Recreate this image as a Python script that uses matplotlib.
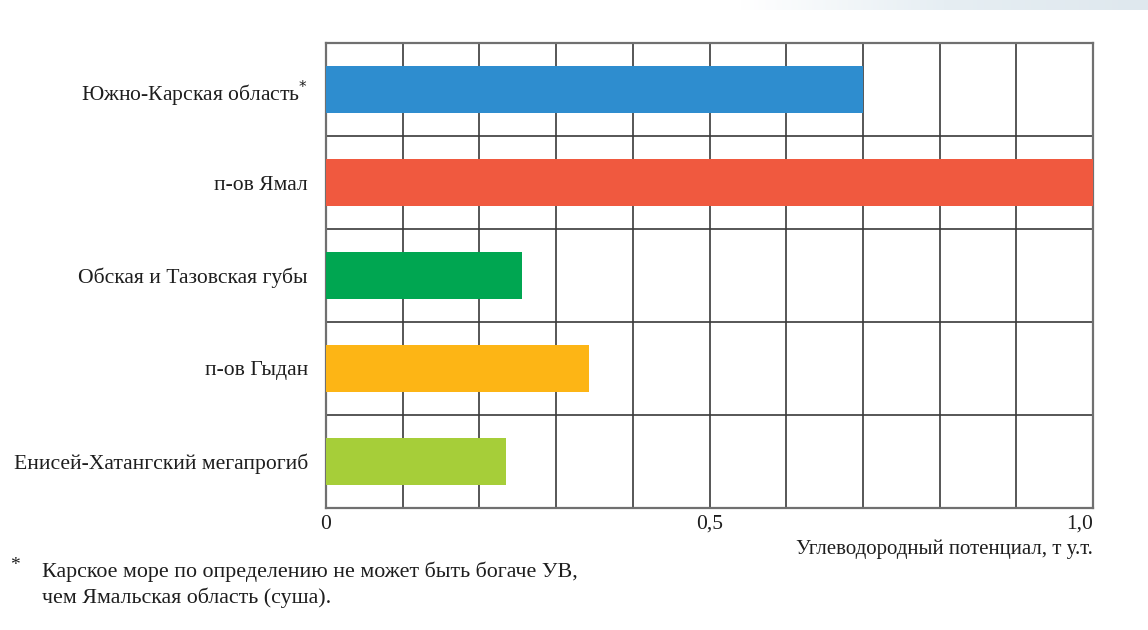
import matplotlib.pyplot as plt
import numpy as np

plt.rcParams['font.family'] = ['Liberation Serif', 'DejaVu Serif']

regions = ["Южно-Карская область$^{*}$", "п-ов Ямал", "Обская и Тазовская губы",
           "п-ов Гыдан", "Енисей-Хатангский мегапрогиб"]
potential = [0.70, 1.0, 0.256, 0.343, 0.235]
colors = ["#2E8DCF", "#F0593F", "#00A651", "#FDB515", "#A6CE39"]
xticks = [0, 0.5, 1.0]
xticklabels = ["0", "0,5", "1,0"]

fig = plt.figure(figsize=(11.48, 6.3), dpi=100)
ax = fig.add_axes([326/1148, 1-508/630, 767/1148, 465/630])

# light band at the top right (decor)
bg = fig.add_axes([740/1148, 1-10/630, 408/1148, 10/630])
grad = np.linspace(0, 1, 200)[None, :]
bg.imshow(grad, aspect="auto", cmap=plt.matplotlib.colors.LinearSegmentedColormap.from_list(
    "b", ["#ffffff", "#e6eef3", "#dfe8ee"]))
bg.axis("off")

y = np.arange(len(regions))
ax.barh(y, potential, height=0.5, color=colors, zorder=3)
ax.set_ylim(len(regions)-0.5, -0.5)
ax.set_xlim(0, 1.0)

for xv in np.arange(0.1, 1.0, 0.1):
    ax.axvline(xv, color="#3a3a3a", lw=1.2, zorder=1)
for yv in np.arange(0.5, len(regions)-0.5, 1):
    ax.axhline(yv, color="#3a3a3a", lw=1.2, zorder=1)
for s in ax.spines.values():
    s.set_color("#707070")
    s.set_linewidth(1.6)

txt = "#1e1e1e"
ax.set_yticks(y)
ax.set_yticklabels(regions, fontsize=15.6, color=txt)
ax.tick_params(axis="y", length=0, pad=13)
ax.set_xticks(xticks)
ax.set_xticklabels(xticklabels, fontsize=15.5, color=txt)
ax.tick_params(axis="x", length=0, pad=5)
ax.get_xticklabels()[-1].set_horizontalalignment("right")

fig.text(1093/1148, 1-549/630, "Углеводородный потенциал, т у.т.", ha="right", va="center",
         fontsize=15, color=txt)
fig.text(10/1148, 1-565/630, "*", ha="left", va="center", fontsize=14, color=txt)
fig.text(42/1148, 1-572/630, "Карское море по определению не может быть богаче УВ,", ha="left",
         va="center", fontsize=15.8, color=txt)
fig.text(42/1148, 1-598/630, "чем Ямальская область (суша).", ha="left", va="center",
         fontsize=15.8, color=txt)

fig.savefig("out.png", dpi=100)
